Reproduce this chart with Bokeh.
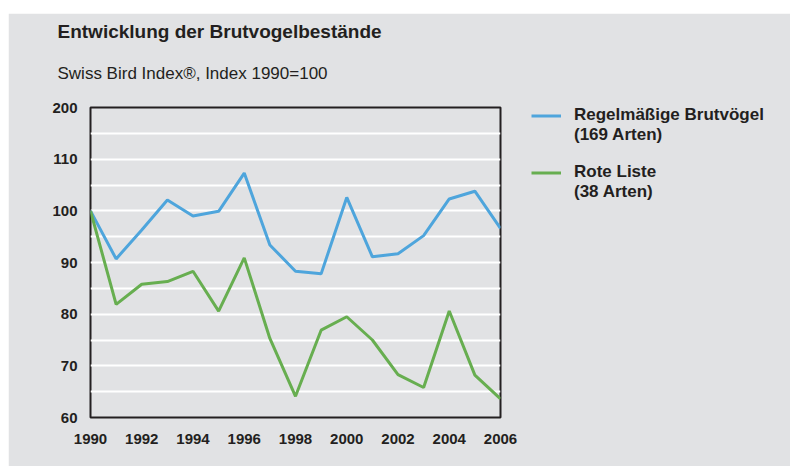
from bokeh.plotting import figure
from bokeh.models import FixedTicker, Title, Legend, LegendItem, Range1d, Spacer
from bokeh.layouts import column, row
from bokeh.embed import file_html
from bokeh.resources import INLINE

years = list(range(1990, 2007))
regular = [100.0, 90.7, 96.3, 102.1, 99.0, 99.9, 107.3, 93.4, 88.3, 87.8,
           102.6, 91.1, 91.7, 95.2, 102.3, 103.8, 96.6]
red_list = [100.0, 81.9, 85.8, 86.3, 88.3, 80.6, 90.9, 75.3, 64.1, 76.9,
            79.5, 75.0, 68.3, 65.8, 80.6, 68.2, 63.6]
y_ticks = [60, 70, 80, 90, 100, 110, 120]
y_tick_labels = {120: "200"}
grid_ticks = [65, 70, 75, 80, 85, 90, 95, 100, 105, 110, 115]
x_ticks = [1990, 1992, 1994, 1996, 1998, 2000, 2002, 2004, 2006]

title_text = "Entwicklung der Brutvogelbestände"
subtitle_text = "Swiss Bird Index®, Index 1990=100"
regular_label = ["Regelmäßige Brutvögel", "(169 Arten)"]
red_label = ["Rote Liste", "(38 Arten)"]

BG = "#e1e2e4"
BLUE = "#4ea5dc"
GREEN = "#67ae50"
DARK = "#231f20"
FONT = "Liberation Sans"

p = figure(width=782, height=453, output_backend="svg", toolbar_location=None,
           x_range=Range1d(1990, 2006), y_range=Range1d(60, 120),
           min_border_left=82, min_border_right=290, min_border_top=94, min_border_bottom=49,
           frame_width=410, frame_height=310)
p.background_fill_color = BG
p.border_fill_color = BG
p.outline_line_color = DARK
p.outline_line_width = 2

p.xgrid.visible = False
p.ygrid.ticker = FixedTicker(ticks=grid_ticks)
p.ygrid.grid_line_color = "white"
p.ygrid.grid_line_width = 2

for ax in (p.xaxis, p.yaxis):
    ax.axis_line_color = None
    ax.major_tick_line_color = None
    ax.minor_tick_line_color = None
    ax.major_label_text_font = FONT
    ax.major_label_text_font_size = "15px"
    ax.major_label_text_font_style = "bold"
    ax.major_label_text_color = DARK

p.xaxis.ticker = FixedTicker(ticks=x_ticks)
p.xaxis.major_label_standoff = 10
p.yaxis.ticker = FixedTicker(ticks=y_ticks)
p.yaxis.major_label_overrides = y_tick_labels
p.yaxis.major_label_standoff = 7

r1 = p.line(years, regular, line_color=BLUE, line_width=3)
r2 = p.line(years, red_list, line_color=GREEN, line_width=3)
# invisible renderer, used only for the second lines of the legend entries
ghost = p.line([], [], line_color=None)

p.add_layout(Title(text=subtitle_text, align="left", offset=-33, standoff=49,
                   text_font=FONT, text_font_size="17px", text_font_style="normal",
                   text_color=DARK), "above")
p.add_layout(Title(text=title_text, align="left", offset=-33, standoff=-9,
                   text_font=FONT, text_font_size="19px", text_font_style="bold",
                   text_color=DARK), "above")

legend = Legend(items=[LegendItem(label=regular_label[0], renderers=[r1]),
                       LegendItem(label=regular_label[1], renderers=[ghost]),
                       LegendItem(label=" ", renderers=[ghost]),
                       LegendItem(label=red_label[0], renderers=[r2]),
                       LegendItem(label=red_label[1], renderers=[ghost])],
                location=(31, 215), margin=0, padding=0, spacing=-1,
                glyph_width=30, glyph_height=17, label_height=17, label_standoff=13,
                label_text_font=FONT, label_text_font_size="17px",
                label_text_font_style="bold", label_text_color=DARK,
                label_text_line_height=1.0,
                background_fill_alpha=0, border_line_color=None)
p.add_layout(legend, "right")

layout = column(Spacer(height=13, width=790), row(Spacer(width=8, height=453), p))
open("out.html", "w").write(file_html(layout, INLINE))
